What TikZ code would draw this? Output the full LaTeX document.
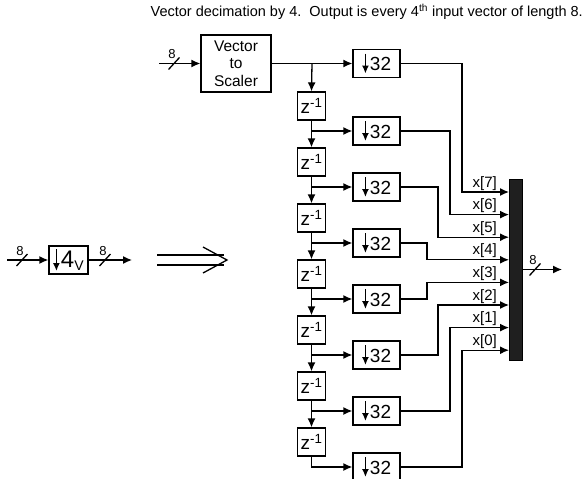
\documentclass[tikz,border=0pt]{standalone}
\usepackage{fontspec}
\setmainfont{Liberation Sans}
\usetikzlibrary{arrows.meta}

\newcommand\dnarr[2]{\tikz[baseline=0pt]\draw[line width=1.4pt,-{Latex[length=8pt,width=7pt]}] (0,#1)--(0,#2);\kern1pt}

\tikzset{
  blk/.style={draw, line width=1.3pt, inner sep=0pt, minimum height=28pt},
  dnblk/.style={blk, minimum width=47pt, font=\fontsize{19}{19}\selectfont},
  zblk/.style={blk, minimum width=28pt, font=\fontsize{19}{19}\selectfont},
  sig/.style={line width=1.3pt, -{Latex[length=9pt,width=8pt]}},
  wire/.style={line width=1.3pt},
  lbl/.style={font=\fontsize{15}{15}\selectfont, inner sep=0pt},
}

\begin{document}
\begin{tikzpicture}[x=1pt,y=-1pt]
  \useasboundingbox (0,0) rectangle (587,479);
  \node[anchor=east, inner sep=0pt, font=\fontsize{14.5}{16}\selectfont] (title) at (583,12)
    {Vector decimation by 4.\ \ Output is every 4\textsuperscript{th} input vector of length 8.};

  % block form on the left
  \coordinate (lin) at (7,260);
  \node[blk, minimum width=39pt, font=\fontsize{24}{24}\selectfont] (dec) at (68.5,260)
    {\dnarr{18pt}{-4pt}4\textsubscript{\fontsize{14}{14}\selectfont V}};
  \coordinate (lout) at (132,260);
  \draw[sig] (lin) -- (dec);
  \draw[sig] (dec) -- (lout);
  \draw[wire] (157,255) -- (224,255) (157,265) -- (224,265);
  \draw[wire, line join=miter] (203,247) -- (227,260) -- (203,273);

  % vector to scaler
  \coordinate (vin) at (159,63.5);
  \node[blk, minimum width=70pt, minimum height=57pt, align=center,
        font=\fontsize{15.5}{17.5}\selectfont] (vts) at (236,63.5) {Vector\\to\\Scaler};
  \draw[sig] (vin) -- (vts);

  % delay chain and downsamplers
  \node[dnblk] (d0) at (376.5,63.5) {\dnarr{17pt}{-3pt}32};
  \draw[sig] (vts) -- (d0);
  \coordinate (t0) at (312,63.5);
  \foreach \i in {1,...,7} {
    \node[zblk] (z\i) at (311.5,{106+56*(\i-1)}) {z\textsuperscript{-1}};
    \node[dnblk] (d\i) at (376.5,{131+56*(\i-1)}) {\dnarr{17pt}{-3pt}32};
  }
  \draw[sig] (t0) -- (z1.north);
  \foreach \i [evaluate=\i as \j using int(\i+1)] in {1,...,6} {
    \draw[sig] (z\i.south) -- (z\j.north);
    \draw[sig] (z\i.south |- d\i.west) -- (d\i.west);
  }
  \draw[sig] (z7.south) |- (d7.west);

  % mux
  \node[draw, fill=black!88, line width=1pt, inner sep=0pt, minimum width=13pt,
        minimum height=181pt] (mux) at (515.5,269.5) {};
  \foreach \j/\k/\vx in {0/7/462, 1/6/450, 2/5/438, 3/4/427, 4/3/427, 5/2/438, 6/1/450, 7/0/462} {
    \pgfmathsetmacro\yk{350.2-22.6*\k}
    \coordinate (in\k) at (509,\yk);
    \coordinate (v\k) at (\vx,\yk);
    \draw[sig] (d\j.east) -| (v\k) -- (in\k);
    \node[lbl, anchor=base east] (x\k) at (497,\yk-5) {x[\k]};
  }
  \coordinate (mout) at (562,269.5);
  \draw[sig] (mux.east) -- (mout);

  % bus widths
  \foreach \n/\bx/\by in {a/22/260, b/105/260, c/174/63.5, d/535/269.5} {
    \draw[wire] (\bx-5.5,\by+6) -- (\bx+5.5,\by-6);
    \node[lbl, font=\fontsize{13}{13}\selectfont] (w\n) at (\bx-2,\by-9) {8};
  }
\end{tikzpicture}
\end{document}
